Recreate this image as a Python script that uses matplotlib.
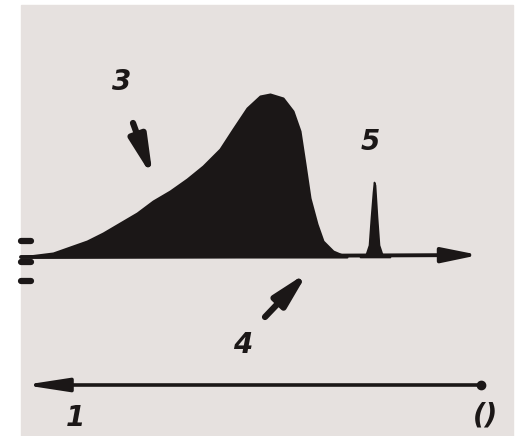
import matplotlib.pyplot as plt
from matplotlib.patches import Rectangle

ink = "#1b1717"
paper = "#e6e1df"

# main broad peak (position, height above baseline)
peak_x = [21, 53, 87, 103, 120, 137, 153, 170, 187, 203, 220, 233, 247,
          260, 270, 283, 293, 300, 305, 310, 317, 323, 333, 347]
peak_h = [0, 4, 16, 24, 34, 44, 56, 66, 78, 91, 108, 128, 149,
          161, 163, 159, 146, 126, 93, 59, 33, 16, 6, 0]

# narrow line 5
spike_x = [360, 366, 369, 371, 373, 374, 375, 377, 379, 382, 390]
spike_h = [0, 3, 12, 40, 65, 75, 72, 40, 12, 3, 0]

# short dashes at the left edge
dash_y = [16, -5, -24]

labels = {"3": (122, 175), "5": (370, 115), "4": (243, -88),
          "1": (75, -161), "()": (485, -158)}

fig = plt.figure(figsize=(5.2, 4.36), dpi=100, facecolor="white")
fig.patches.append(Rectangle((21 / 520, 0), 492 / 520, 431 / 436,
                             transform=fig.transFigure, color=paper, zorder=-5))
ax = fig.add_axes([0, 0, 1, 1])
ax.set_facecolor("none")
ax.set_xlim(0, 520)
ax.set_ylim(-179, 257)
ax.axis("off")

ax.fill_between(peak_x, 0, peak_h, color=ink, lw=1.5, edgecolor=ink)
ax.fill_between(spike_x, 0, spike_h, color=ink, lw=1.2, edgecolor=ink)

# baseline with arrow to the right
ax.annotate("", xy=(479, 2), xytext=(21, 0),
            arrowprops=dict(arrowstyle="-|>,head_length=2.2,head_width=0.45",
                            lw=2.8, color=ink, shrinkA=0, shrinkB=0))

for y in dash_y:
    ax.plot([21, 31], [y, y], color=ink, lw=4.5, solid_capstyle="round")

# pointer arrows 3 and 4
ax.annotate("", xy=(153, 79), xytext=(133, 134),
            arrowprops=dict(arrowstyle="-|>,head_length=2.3,head_width=0.5",
                            lw=4.5, color=ink, shrinkA=0, shrinkB=0))
ax.annotate("", xy=(308, -15), xytext=(265, -60),
            arrowprops=dict(arrowstyle="-|>,head_length=2.1,head_width=0.5",
                            lw=4.5, color=ink, shrinkA=0, shrinkB=0))

# lower scale bar
ax.annotate("", xy=(24, -128), xytext=(481, -128),
            arrowprops=dict(arrowstyle="-|>,head_length=2.6,head_width=0.4",
                            lw=2.6, color=ink, shrinkA=0, shrinkB=0))
ax.plot([481], [-128], "o", color=ink, ms=6)

for txt, (x, y) in labels.items():
    ax.text(x, y, txt, fontsize=20, fontweight="bold", fontstyle="italic",
            color=ink, ha="center", va="center")

fig.savefig("out.png", dpi=100, facecolor="white")
